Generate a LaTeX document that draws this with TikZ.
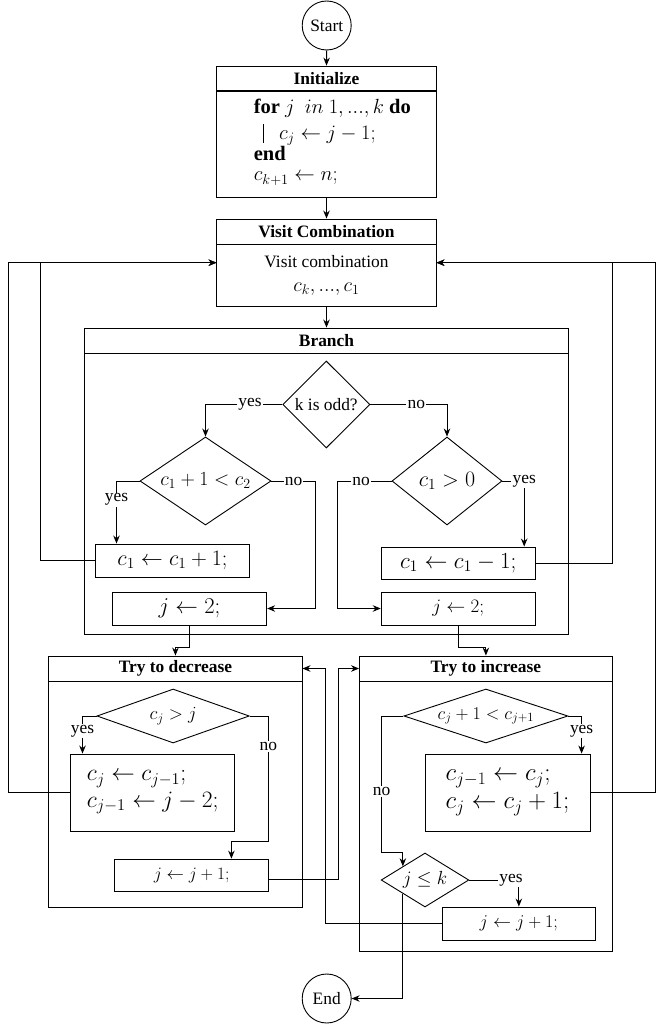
\RequirePackage{fix-cm}
\documentclass[tikz,border=0pt]{standalone}
\usepackage[no-math]{fontspec}
\setmainfont{Liberation Serif}
\usetikzlibrary{shapes.geometric,arrows.meta}
\newcommand\fs[2]{\fontsize{#1}{#2}\selectfont}
\begin{document}
\begin{tikzpicture}[x=1pt,y=-1pt,line width=0.9pt,
  every node/.style={font=\fs{17.4}{20}},
  circ/.style={draw,circle,minimum size=49pt,inner sep=0pt},
  hdr/.style={draw,rectangle,inner sep=0pt,font=\bfseries\fs{17.4}{20}},
  body/.style={draw,rectangle,inner sep=0pt},
  stepbox/.style={draw,rectangle,inner sep=0pt},
  dia/.style={draw,diamond,inner sep=0pt},
  lbl/.style={fill=white,inner sep=1.2pt,font=\fs{17.4}{20}},
  alg/.style={inner sep=0pt,font=\fs{20.5}{24}},
  arr/.style={-{Stealth[length=8pt,width=6.5pt]}},
]
\useasboundingbox (0,0) rectangle (663,1024);

% ---------- top
\node[circ] (start) at (326.7,25.5) {Start};

\node[hdr,minimum width=220pt,minimum height=24.7pt] (initH) at (326.5,78.4) {Initialize};
\node[body,minimum width=220pt,minimum height=106pt] (initB) at (326.5,144) {};
\node[alg,anchor=base west] (alg1) at (253.4,113.8) {\textbf{for} $j$ \ $in$ $1, ..., k$ \textbf{do}};
\node[alg,anchor=base west] (alg2) at (278.6,139.5) {$c_j \leftarrow j-1;$};
\node[alg,anchor=base west] (alg3) at (253.4,160.5) {\textbf{end}};
\node[alg,anchor=base west] (alg4) at (253.4,181) {$c_{k+1} \leftarrow n;$};
\draw[line width=0.5pt] (262.8,124) -- (262.8,143);

\node[hdr,minimum width=220pt,minimum height=25pt] (visitH) at (326.5,231.5) {Visit Combination};
\node[body,minimum width=220pt,minimum height=62pt,align=center,font=\fs{17.4}{24}] (visitB) at (326.5,275)
  {Visit combination\\{\fs{20}{24}$c_k, ..., c_1$}};
\coordinate (vinL) at (216.5,262.7);
\coordinate (vinR) at (436.5,262.7);

% ---------- branch
\node[hdr,minimum width=483.8pt,minimum height=25pt] (branchH) at (326.5,340.5) {Branch};
\node[body,minimum width=483.8pt,minimum height=281pt] (branchB) at (326.5,493.5) {};

\node[dia,minimum width=87.2pt,minimum height=87pt] (kodd) at (326.3,404.5) {k is odd?};
\node[dia,aspect=1.5,minimum width=131pt,minimum height=88pt,font=\fs{20}{24}] (d2) at (205.5,481) {$c_1+1<c_2$};
\node[dia,aspect=1.25,minimum width=110pt,minimum height=88pt,font=\fs{22}{26}] (d3) at (447,481) {$c_1>0$};

\node[stepbox,minimum width=153.6pt,minimum height=33pt,font=\fs{22}{26}] (c1p) at (172.5,560.5) {$c_1 \leftarrow c_1+1;$};
\node[stepbox,minimum width=154.4pt,minimum height=33pt,font=\fs{22.6}{26}] (jL) at (189.5,608.5) {$j \leftarrow 2;$};
\node[stepbox,minimum width=154pt,minimum height=32pt,font=\fs{23}{26}] (c1m) at (458.2,563) {$c_1 \leftarrow c_1-1;$};
\node[stepbox,minimum width=154pt,minimum height=33pt,font=\fs{19}{22}] (jR) at (458.2,608.5) {$j \leftarrow 2;$};

% ---------- try to decrease
\node[hdr,minimum width=253.1pt,minimum height=25pt] (tdH) at (175.45,668.5) {Try to decrease};
\node[body,minimum width=253.1pt,minimum height=226pt] (tdB) at (175.45,794) {};
\node[dia,aspect=2.8,minimum width=152.3pt,minimum height=54pt,font=\fs{18.5}{22}] (dTD) at (173.1,716) {$c_j>j$};
\node[stepbox,minimum width=164pt,minimum height=77pt,align=left,font=\fs{23.5}{26.5}] (cjL) at (152.7,792.5)
  {$c_j \leftarrow c_{j-1};$\\$c_{j-1} \leftarrow j-2;$};
\node[stepbox,minimum width=153.6pt,minimum height=32.7pt,font=\fs{17.4}{20}] (jjL) at (191.6,875.4) {$j \leftarrow j+1;$};

% ---------- try to increase
\node[hdr,minimum width=252.8pt,minimum height=25pt] (tiH) at (485.9,668.5) {Try to increase};
\node[body,minimum width=252.8pt,minimum height=270pt] (tiB) at (485.9,816) {};
\node[dia,aspect=3.04,minimum width=164pt,minimum height=54pt,font=\fs{18}{21}] (dTI) at (485.9,716) {$c_j+1<c_{j+1}$};
\node[stepbox,minimum width=165pt,minimum height=77pt,align=left,font=\fs{25}{28}] (cjR) at (507.5,792.5)
  {$c_{j-1} \leftarrow c_j;$\\$c_j \leftarrow c_j+1;$};
\node[dia,aspect=1.62,minimum width=87.7pt,minimum height=54pt,font=\fs{19}{22}] (djk) at (425,880) {$j\leq k$};
\node[stepbox,minimum width=153.7pt,minimum height=33pt,font=\fs{18}{21}] (jjR) at (518.85,923.5) {$j \leftarrow j+1;$};

\node[circ] (end) at (326.7,998.5) {End};

% ---------- connectors
\draw[arr] (start.south) -- (initH.north);
\draw[arr] (initB.south) -- (visitH.north);
\draw[arr] (visitB.south) -- (branchH.north);

\draw[arr] (kodd.west) -| node[lbl,pos=0.21]{yes} (d2.north);
\draw[arr] (kodd.east) -| node[lbl,pos=0.30]{no} (d3.north);

\coordinate (yesL) at (116.5,481);
\draw[arr] (d2.west) -- (yesL) -- node[lbl,pos=0.30]{yes} (yesL |- c1p.north);
\coordinate (noL) at (315.7,481);
\draw[arr] (d2.east) -- node[lbl]{no} (noL) |- (jL.east);
\coordinate (noR) at (337,481);
\draw[arr] (d3.west) -- node[lbl,pos=0.56]{no} (noR) |- (jR.west);
\coordinate (yesR) at (524.2,481);
\draw[arr] (d3.east) -- (yesR) node[lbl]{yes} -- (yesR |- c1m.north);

\draw[arr] (c1p.west) -- ++(-54.9,0) |- (vinL);
\draw[arr] (c1m.east) -- ++(77.1,0) |- (vinR);

\draw[arr] (jL.south) -- ++(0,22) -| (tdH.north);
\draw[arr] (jR.south) -- ++(0,22) -| (tiH.north);

\coordinate (yesTD) at (82.5,716);
\draw[arr] (dTD.west) -- (yesTD) -- node[lbl,pos=0.4]{yes} (yesTD |- cjL.north);
\coordinate (noTD) at (268.4,716);
\coordinate (noTDb) at (268.4,841.7);
\coordinate (noTDc) at (231.4,841.7);
\draw[arr] (dTD.east) -- (noTD) -- node[lbl,pos=0.24]{no} (noTDb) -- (noTDc) -- (noTDc |- jjL.north);
\draw[arr] ([yshift=-4pt]jjL.east) -- ++(69.4,0) |- (tiH.west);
\draw[arr] (cjL.west) -- ++(-62.1,0) |- (vinL);

\coordinate (yesTI) at (581.6,716);
\draw[arr] (dTI.east) -- (yesTI) -- node[lbl,pos=0.4]{yes} (yesTI |- cjR.north);
\coordinate (noTI) at (381.6,716);
\coordinate (noTIb) at (381.6,852.7);
\draw[arr] (dTI.west) -- (noTI) -- node[lbl,pos=0.55]{no} (noTIb) -| (djk.north west);
\draw[arr] (djk.east) -| node[lbl,pos=0.42]{yes} (jjR.north);
\draw[arr] (jjR.west) -- ++(-115.7,0) |- (tdH.east);
\draw[arr] (cjR.east) -- ++(65.4,0) |- (vinR);
\draw[arr] (djk.south west) |- (end.east);
\end{tikzpicture}
\end{document}
